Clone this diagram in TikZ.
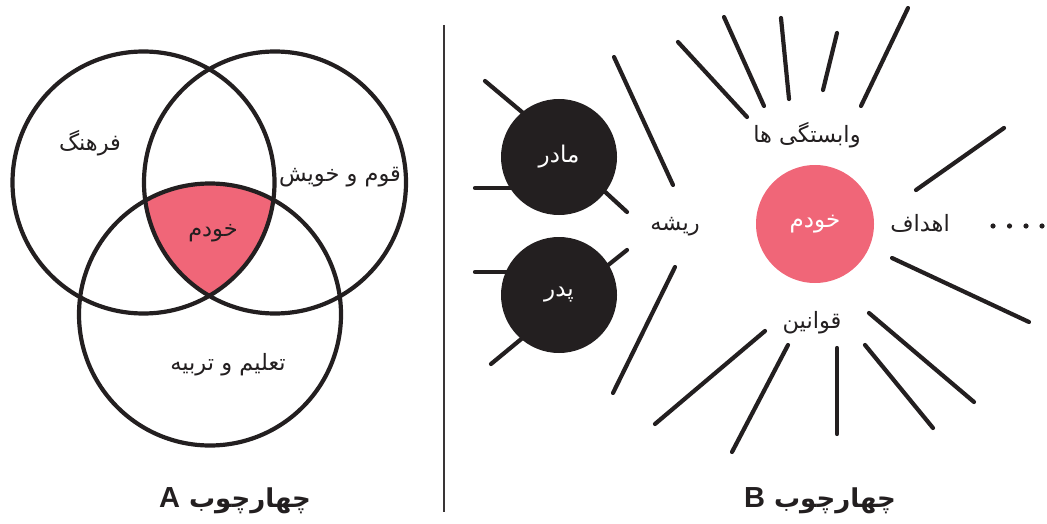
\documentclass[tikz,border=0pt]{standalone}
\usepackage{fontspec}
\TeXXeTstate=1
\newfontfamily\fa[Script=Arabic]{DejaVu Sans}
\newfontfamily\lat{Liberation Sans}
\definecolor{ink}{HTML}{231F20}
\definecolor{rose}{HTML}{F06678}
\newcommand\latletter[1]{{\lat\bfseries\fontsize{29}{30}\selectfont #1}}
\begin{document}
\begin{tikzpicture}[x=1pt,y=-1pt,
  ray/.style={draw=ink,line width=4.2pt,line cap=round},
  ring/.style={draw=ink,line width=4.2pt},
  lbl/.style={font=\fa\fontsize{22.5}{26}\selectfont,text=ink,inner sep=0pt},
  wlbl/.style={font=\fa\fontsize{23}{26}\selectfont,text=white,inner sep=0pt},
  title/.style={font=\fa\fontsize{26}{28}\selectfont\bfseries,text=ink,inner sep=0pt},
  disc/.style={circle,inner sep=0pt,minimum size=116pt},
  dot/.style={fill=ink}]
\useasboundingbox (0,0) rectangle (1047,524);
% ---------- Panel A ----------
\coordinate (cL) at (143.5,182.5);
\coordinate (cR) at (275,182.5);
\coordinate (cB) at (210,314.5);
\begin{scope}
  \clip (cL) circle[radius=131pt];
  \clip (cR) circle[radius=131pt];
  \fill[rose] (cB) circle[radius=131pt];
\end{scope}
\draw[ring] (cL) circle[radius=131pt];
\draw[ring] (cR) circle[radius=131pt];
\draw[ring] (cB) circle[radius=131pt];
\node[lbl] (farhang) at (90,143) {\beginR فرهنگ\endR};
\node[lbl] (qowm) at (340,177) {\beginR قوم و خویش\endR};
\node[lbl] (khodamA) at (213,233) {\beginR خودم\endR};
\node[lbl] (talim) at (228,365) {\beginR تعلیم و تربیه\endR};
\node[title] (titleA) at (235,501) {\beginR چهارچوب \beginL\latletter{A}\endL\endR};
% divider
\draw[draw=ink!90,line width=1.8pt] (444,25) -- (444,512);
% ---------- Panel B ----------
\draw[ray] (485,81) -- (535,123);
\draw[ray] (475,188) -- (535,188);
\draw[ray] (627,212) -- (590,178);
\draw[ray] (627,250) -- (592,278);
\draw[ray] (475,272) -- (535,272);
\draw[ray] (491,364) -- (537,326);
\node[disc,fill=ink] (mom) at (559,157) {};
\node[disc,fill=ink] (dad) at (559,295) {};
\node[wlbl] at (mom) {\beginR مادر\endR};
\node[wlbl] at (dad) {\beginR پدر\endR};
% root rays
\draw[ray] (614,57) -- (673,185);
\draw[ray] (675,267) -- (613,393);
% top rays
\draw[ray] (678,42) -- (747,117);
\draw[ray] (724,17) -- (764,106);
\draw[ray] (781,18) -- (789,99);
\draw[ray] (837,33) -- (823,90);
\draw[ray] (908,8) -- (861,106);
% right rays
\draw[ray] (1004,128) -- (916,190);
\draw[ray] (892,258) -- (1029,322);
% bottom rays
\draw[ray] (869,313) -- (974,402);
\draw[ray] (865,345) -- (933,428);
\draw[ray] (837,348) -- (837,434);
\draw[ray] (765,331) -- (655,424);
\draw[ray] (788,345) -- (732,452);
% self
\node[disc,fill=rose,minimum size=118pt] (self) at (815,224) {};
\node[wlbl] at (self) {\beginR خودم\endR};
\node[lbl] (risheh) at (675,227) {\beginR ریشه\endR};
\node[lbl] (vabast) at (807,135) {\beginR وابستگی ها\endR};
\node[lbl] (ahdaf) at (920,223) {\beginR اهداف\endR};
\node[lbl] (qavanin) at (812,323) {\beginR قوانین\endR};
\foreach \x [count=\i] in {993,1009.5,1026,1042}
  \fill[dot] (\x,226) circle[radius=2.6pt] coordinate (d\i);
\node[title] (titleB) at (820,501) {\beginR چهارچوب \beginL\latletter{B}\endL\endR};
\end{tikzpicture}
\end{document}
